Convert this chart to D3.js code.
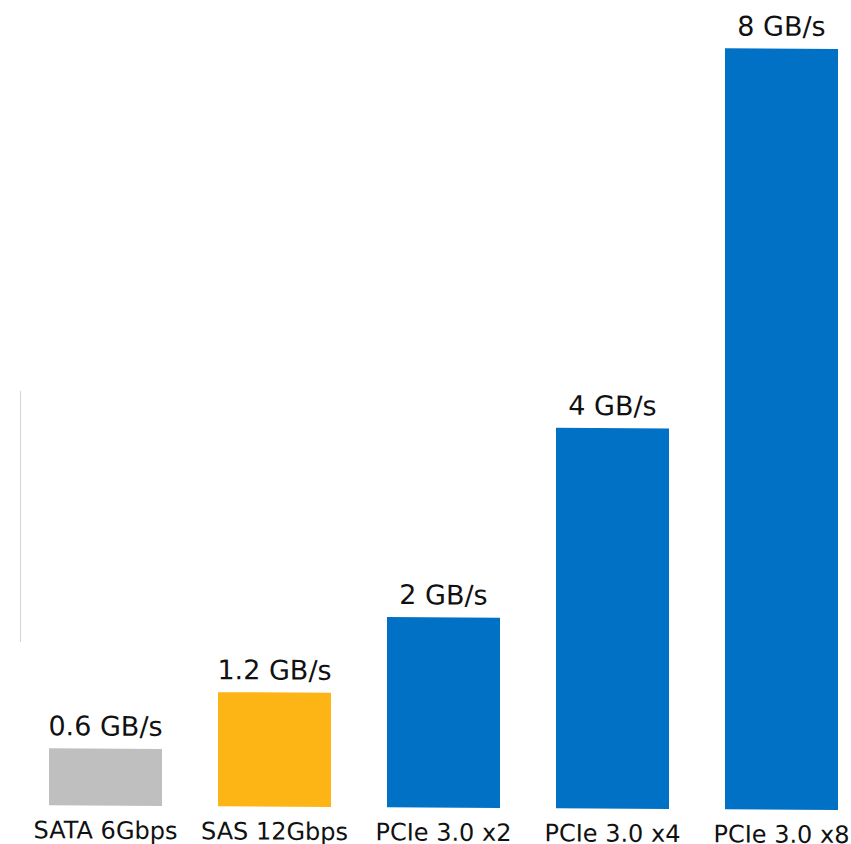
<!DOCTYPE html>
<html>
<head>
<meta charset="utf-8">
<script src="https://cdn.jsdelivr.net/npm/d3@7"></script>
<style>
  html, body { margin: 0; padding: 0; background: #ffffff; }
  svg { display: block; }
</style>
</head>
<body>
<svg id="chart" width="851" height="844"></svg>
<script>
const categories = ["SATA 6Gbps", "SAS 12Gbps", "PCIe 3.0 x2", "PCIe 3.0 x4", "PCIe 3.0 x8"];
const values = [0.6, 1.2, 2, 4, 8];
const valueLabels = ["0.6 GB/s", "1.2 GB/s", "2 GB/s", "4 GB/s", "8 GB/s"];
const colors = ["#bfbfbf", "#fdb515", "#0071c5", "#0071c5", "#0071c5"];

const svg = d3.select("#chart");

const barW = 113;
const step = (838 - 49 - barW) / 4;
const x = d3.scaleBand()
  .domain(categories)
  .range([49, 49 + step * 4 + barW])
  .paddingInner((step - barW) / step)
  .paddingOuter(0);

const y = d3.scaleLinear().domain([0, 8]).range([805, 44]);

// faint vertical line at left (artifact in the original)
svg.append("line")
  .attr("x1", 20.5).attr("x2", 20.5)
  .attr("y1", 391).attr("y2", 642)
  .attr("stroke", "#d4d4d4").attr("stroke-width", 1);

const g = svg.append("g").attr("transform", "skewY(0.34)");

const data = categories.map((c, i) => ({ c, v: values[i], label: valueLabels[i], color: colors[i] }));

g.selectAll("rect.bar")
  .data(data)
  .join("rect")
  .attr("class", "bar")
  .attr("x", d => x(d.c))
  .attr("width", x.bandwidth())
  .attr("y", d => y(d.v))
  .attr("height", d => y(0) - y(d.v))
  .attr("fill", d => d.color);

g.selectAll("text.val")
  .data(data)
  .join("text")
  .attr("class", "val")
  .attr("x", d => x(d.c) + x.bandwidth() / 2)
  .attr("y", d => y(d.v) - 13)
  .attr("text-anchor", "middle")
  .attr("font-family", "DejaVu Sans, sans-serif")
  .attr("font-size", 27)
  .attr("fill", "#111111")
  .text(d => d.label);

g.selectAll("text.cat")
  .data(data)
  .join("text")
  .attr("class", "cat")
  .attr("x", d => x(d.c) + x.bandwidth() / 2)
  .attr("y", y(0) + 33)
  .attr("text-anchor", "middle")
  .attr("font-family", "DejaVu Sans, sans-serif")
  .attr("font-size", 24)
  .attr("fill", "#111111")
  .text(d => d.c);
</script>
</body>
</html>
